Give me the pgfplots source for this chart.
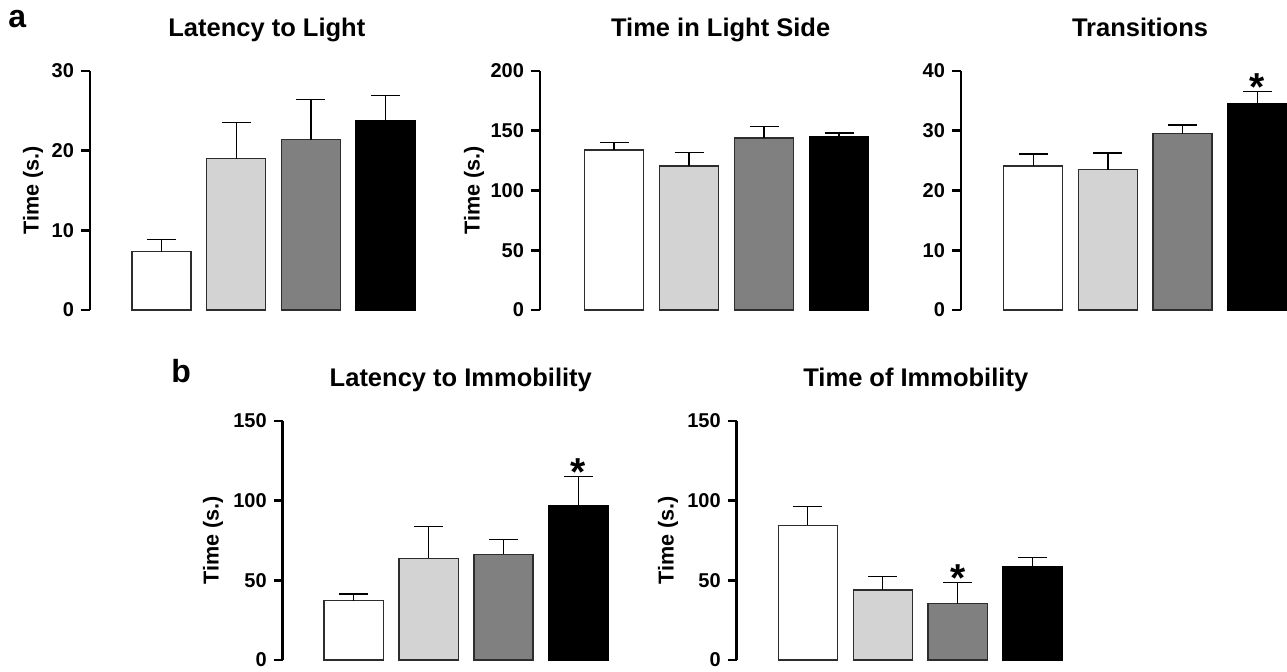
\documentclass[border=0pt]{standalone}
\usepackage{pgfplots}
\pgfplotsset{compat=1.18}
\usepackage{fontspec}
\setmainfont{Liberation Sans}
\definecolor{lgray}{RGB}{211,211,211}
\definecolor{mgray}{RGB}{128,128,128}
\definecolor{edge}{RGB}{45,45,45}
\pgfplotsset{
  panel/.style={
    scale only axis, height=119.5pt,
    ybar, bar width=0.79, bar shift=0pt,
    hide x axis, axis y line*=left, ymin=0, enlargelimits=false, clip=false,
    axis line style={line width=1.35pt, black},
    tick align=outside, major tick length=4.5pt,
    ytick style={line width=1.35pt, black},
    yticklabel style={font=\fontsize{10}{10}\selectfont\bfseries},
    /pgf/number format/assume math mode=true,
    error bars/y dir=plus, error bars/y explicit,
    error bars/error bar style={line width=0.7pt, black},
    error bars/error mark options={rotate=90, mark size=7.25pt, line width=0.7pt, black},
  },
  g1/.style={fill=white, draw=edge, line width=0.65pt},
  g2/.style={fill=lgray, draw=edge, line width=0.65pt},
  g3/.style={fill=mgray, draw=edge, line width=0.65pt},
  g4/.style={fill=black, draw=black, line width=0.65pt},
}
\newcommand{\ttl}{\fontsize{12.75}{14}\selectfont\bfseries}
\newcommand{\ylab}{\fontsize{10.8}{12}\selectfont\bfseries}
\newcommand{\stfont}{\fontsize{19.5}{19.5}\selectfont\bfseries}
\begin{document}
\begin{tikzpicture}
\useasboundingbox (0,0) rectangle (643.5pt,335.5pt);
\node[anchor=base west, font=\fontsize{16}{16}\selectfont\bfseries, inner sep=0] at (4pt,321.5pt) {a};
\node[anchor=base west, font=\fontsize{16}{16}\selectfont\bfseries, inner sep=0] at (85.5pt,144.5pt) {b};

% a1 Latency to Light
\begin{axis}[panel, at={(45pt,180.5pt)}, anchor=south west, width=165pt,
  xmin=-0.957, xmax=3.46, ymax=30, ytick={0,10,20,30}]
\addplot[g1] coordinates {(0,7.3) +- (0,1.55)};
\addplot[g2] coordinates {(1,19.0) +- (0,4.5)};
\addplot[g3] coordinates {(2,21.4) +- (0,5.0)};
\addplot[g4] coordinates {(3,23.8) +- (0,3.15)};
\node[font=\ttl, anchor=base] at ([yshift=17.25pt]axis cs:1.41,30) {Latency to Light};
\node[font=\ylab, rotate=90] at ([xshift=-28.5pt]axis description cs:0,0.5) {Time (s.)};
\end{axis}

% a2 Time in Light Side
\begin{axis}[panel, at={(270pt,180.5pt)}, anchor=south west, width=167.5pt,
  xmin=-0.99, xmax=3.48, ymax=200, ytick={0,50,100,150,200}]
\addplot[g1] coordinates {(0,134) +- (0,6.3)};
\addplot[g2] coordinates {(1,120.5) +- (0,11.5)};
\addplot[g3] coordinates {(2,144) +- (0,9.4)};
\addplot[g4] coordinates {(3,145) +- (0,3.2)};
\node[font=\ttl, anchor=base] at ([yshift=17.25pt]axis cs:1.42,200) {Time in Light Side};
\node[font=\ylab, rotate=90] at ([xshift=-33pt]axis description cs:0,0.5) {Time (s.)};
\end{axis}

% a3 Transitions
\begin{axis}[panel, at={(480.5pt,180.5pt)}, anchor=south west, width=163pt,
  xmin=-0.967, xmax=3.398, ymax=40, ytick={0,10,20,30,40}]
\addplot[g1] coordinates {(0,24.1) +- (0,2.0)};
\addplot[g2] coordinates {(1,23.5) +- (0,2.8)};
\addplot[g3] coordinates {(2,29.5) +- (0,1.45)};
\addplot[g4] coordinates {(3,34.5) +- (0,2.05)};
\node[font=\ttl, anchor=base] at ([yshift=17.25pt]axis cs:1.43,40) {Transitions};
\node[font=\stfont, anchor=base, inner sep=0] at ([yshift=-4.2pt]axis cs:3,36.55) {*};
\end{axis}

% b1 Latency to Immobility
\begin{axis}[panel, at={(141.35pt,5.5pt)}, anchor=south west, width=166.2pt,
  xmin=-0.948, xmax=3.49, ymax=150, ytick={0,50,100,150}]
\addplot[g1] coordinates {(0,37.2) +- (0,4.2)};
\addplot[g2] coordinates {(1,63.8) +- (0,20)};
\addplot[g3] coordinates {(2,66.4) +- (0,9.2)};
\addplot[g4] coordinates {(3,96.8) +- (0,18.2)};
\node[font=\ttl, anchor=base] at ([yshift=17.5pt]axis cs:1.43,150) {Latency to Immobility};
\node[font=\ylab, rotate=90] at ([xshift=-34.85pt]axis description cs:0,0.5) {Time (s.)};
\node[font=\stfont, anchor=base, inner sep=0] at ([yshift=-4.4pt]axis cs:3,115) {*};
\end{axis}

% b2 Time of Immobility
\begin{axis}[panel, at={(368.35pt,5.5pt)}, anchor=south west, width=166.4pt,
  xmin=-0.948, xmax=3.49, ymax=150, ytick={0,50,100,150}]
\addplot[g1] coordinates {(0,84.5) +- (0,11.7)};
\addplot[g2] coordinates {(1,43.9) +- (0,8.6)};
\addplot[g3] coordinates {(2,35.4) +- (0,13.4)};
\addplot[g4] coordinates {(3,58.4) +- (0,6.1)};
\node[font=\ttl, anchor=base] at ([yshift=17.5pt]axis cs:1.44,150) {Time of Immobility};
\node[font=\ylab, rotate=90] at ([xshift=-34.35pt]axis description cs:0,0.5) {Time (s.)};
\node[font=\stfont, anchor=base, inner sep=0] at ([yshift=-4.4pt]axis cs:2,48.8) {*};
\end{axis}
\end{tikzpicture}
\end{document}
